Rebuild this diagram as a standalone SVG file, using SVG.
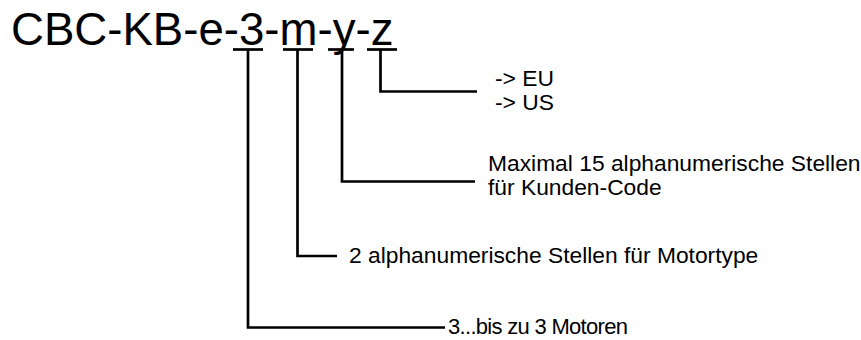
<svg xmlns="http://www.w3.org/2000/svg" width="861" height="340" viewBox="0 0 861 340">
<style>
.t{font-family:"Liberation Sans",Arial,sans-serif;fill:#000}
.lbl{font-size:22.8px}
.ln{fill:none;stroke:#000;stroke-width:2.7}
</style>
<rect width="861" height="340" fill="#fff"/>
<g id="title">
<text class="t" x="11" y="45" font-size="45.6">CBC-KB-e-3-m-y-z</text>
</g>
<g id="connectors">
<line class="ln" x1="233" y1="49.5" x2="263" y2="49.5"/>
<line class="ln" x1="283" y1="49.5" x2="313" y2="49.5"/>
<line class="ln" x1="328" y1="49.5" x2="354" y2="49.5"/>
<line class="ln" x1="367" y1="49.5" x2="397" y2="49.5"/>
<polyline class="ln" points="248,49.5 248,327.5 445,327.5"/>
<polyline class="ln" points="297.5,49.5 297.5,256 337,256"/>
<polyline class="ln" points="342,49.5 342,181.5 475,181.5"/>
<polyline class="ln" points="380.5,49.5 380.5,91.5 477,91.5"/>
</g>
<g id="node-z">
<text class="t lbl" x="495" y="86">-&gt; EU</text>
<text class="t lbl" x="495" y="110">-&gt; US</text>
</g>
<g id="node-y">
<text class="t lbl" x="488" y="171">Maximal 15 alphanumerische Stellen</text>
<text class="t lbl" x="488" y="195">für Kunden-Code</text>
</g>
<g id="node-m">
<text class="t lbl" x="349" y="263">2 alphanumerische Stellen für Motortype</text>
</g>
<g id="node-3">
<text class="t" x="448" y="334" font-size="22" textLength="180" lengthAdjust="spacing">3...bis zu 3 Motoren</text>
</g>
</svg>
